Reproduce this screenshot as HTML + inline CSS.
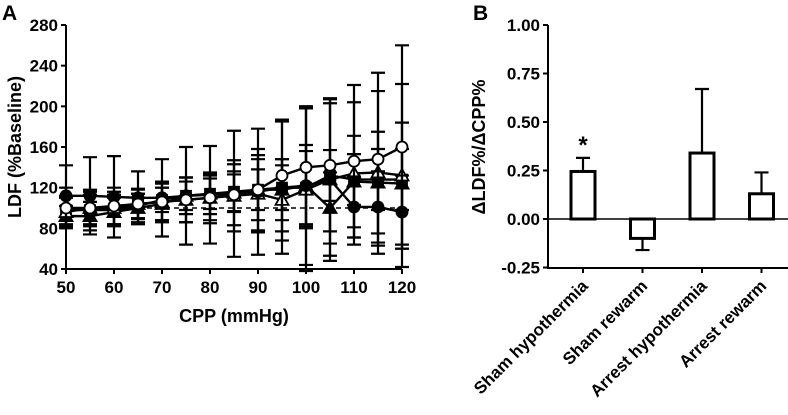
<!DOCTYPE html>
<html><head><meta charset="utf-8"><style>
body{margin:0;background:#fff}
svg{display:block;font-family:"Liberation Sans",Arial,sans-serif;font-weight:bold}
</style></head><body>
<svg id="c" width="788" height="415" viewBox="0 0 788 415"></svg>
<script>
const xVals=[50,55,60,65,70,75,80,85,90,95,100,105,110,115,120];
const openCircle=[100,100,102,104,106,108,110,113,118,132,140,142,146,148,160];
const openCircleErr=[20,18,18,15,20,22,25,30,40,55,60,65,75,85,100];
const filledCircle=[112,112,111,110,110,112,113,114,116,120,122,128,101,101,96];
const filledCircleErr=[30,38,40,26,38,48,48,62,62,65,78,80,30,35,36];
const openTriangle=[96,100,100,104,106,108,110,112,114,108,118,128,134,135,132];
const openTriangleErr=[14,16,16,14,18,22,22,35,38,40,80,75,70,80,90];
const filledTriangle=[92,92,96,100,104,112,114,115,118,118,122,100,126,125,124];
const filledTriangleErr=[10,14,14,14,16,18,20,18,30,30,40,35,45,50,60];
const filledSquare=[98,98,98,102,108,112,114,116,118,120,120,132,128,128,128];
const filledSquareErr=[14,15,15,12,12,14,15,20,20,22,36,25,25,30,30];
const yTicksA=[40,80,120,160,200,240,280];
const categories=["Sham hypothermia","Sham rewarm","Arrest hypothermia","Arrest rewarm"];
const barValues=[0.245,-0.10,0.34,0.13];
const barErr=[0.07,0.06,0.33,0.11];
const yTicksB=[-0.25,0,0.25,0.5,0.75,1.0];

const svg=document.getElementById('c');const NS="http://www.w3.org/2000/svg";
function mk(t,a,p){const e=document.createElementNS(NS,t);for(const k in a)e.setAttribute(k,a[k]);(p||svg).appendChild(e);return e;}
const xA=v=>66+(v-50)*(402-66)/70;
const yA=v=>269-(v-40)*(269-25)/240;
let g=mk('g',{});

let t=mk('text',{x:2,y:20,'font-size':21},g);t.textContent='A';

let ax=mk('path',{d:`M66,25V269H402`,stroke:'#000','stroke-width':2,fill:'none'},g);

yTicksA.forEach(v=>{mk('line',{x1:61,x2:66,y1:yA(v),y2:yA(v),stroke:'#000','stroke-width':2},g);
 const tt=mk('text',{x:58,y:yA(v)+6,'font-size':17,'text-anchor':'end'},g);tt.textContent=v;
 });
[50,60,70,80,90,100,110,120].forEach(v=>{mk('line',{x1:xA(v),x2:xA(v),y1:269,y2:274,stroke:'#000','stroke-width':2},g);
 const tt=mk('text',{x:xA(v),y:293,'font-size':17,'text-anchor':'middle'},g);tt.textContent=v;
 });
t=mk('text',{x:234,y:322,'font-size':18,'text-anchor':'middle'},g);t.textContent='CPP (mmHg)';

t=mk('text',{x:0,y:0,'font-size':18,'text-anchor':'middle',transform:`translate(21,147) rotate(-90)`},g);t.textContent='LDF (%Baseline)';

let d=mk('line',{x1:66,x2:402,y1:yA(100),y2:yA(100),stroke:'#000','stroke-width':1.5,'stroke-dasharray':'5,4'},g);

const series=[[filledSquare,filledSquareErr,'square',true],[filledTriangle,filledTriangleErr,'tri',true],[openTriangle,openTriangleErr,'tri',false],[filledCircle,filledCircleErr,'circ',true],[openCircle,openCircleErr,'circ',false]];
const names=['filled-square','filled-triangle','open-triangle','filled-circle','open-circle'];
series.forEach((s,si)=>{const [vals,err,shape,fill]=s;
 const sg=mk('g',{},g);
 vals.forEach((v,i)=>{const x=xA(xVals[i]);
  mk('path',{d:`M${x},${yA(v-err[i])}V${yA(v+err[i])}M${x-7},${yA(v-err[i])}H${x+7}M${x-7},${yA(v+err[i])}H${x+7}`,stroke:'#000','stroke-width':2.2,fill:'none'},sg);});
 mk('polyline',{points:vals.map((v,i)=>xA(xVals[i])+','+yA(v)).join(' '),fill:'none',stroke:'#000','stroke-width':2.4},sg);
 vals.forEach((v,i)=>{const x=xA(xVals[i]),y=yA(v);let m;
  const st={fill:fill?'#000':'#fff',stroke:'#000','stroke-width':1.8};
  if(shape=='circ')m=mk('circle',Object.assign({cx:x,cy:y,r:5.5},st),sg);
  else if(shape=='tri')m=mk('path',Object.assign({d:`M${x},${y-6.5}L${x+6.5},${y+5}L${x-6.5},${y+5}Z`},st),sg);
  else m=mk('rect',Object.assign({x:x-5,y:y-5,width:10,height:10},st),sg);
  });
});
const yB=v=>219-v*(219-25);
const xB=i=>583+i*59.5;
g=mk('g',{});
t=mk('text',{x:473,y:20,'font-size':21},g);t.textContent='B';

ax=mk('path',{d:`M548,25V268H788`,stroke:'#000','stroke-width':2,fill:'none'},g);

mk('line',{x1:548,x2:788,y1:yB(0),y2:yB(0),stroke:'#000','stroke-width':1.5},g);
yTicksB.forEach(v=>{mk('line',{x1:543,x2:548,y1:yB(v),y2:yB(v),stroke:'#000','stroke-width':2},g);
 const tt=mk('text',{x:540,y:yB(v)+6,'font-size':17,'text-anchor':'end'},g);tt.textContent=v.toFixed(2);
 });
t=mk('text',{x:0,y:0,'font-size':18,'text-anchor':'middle',transform:`translate(485,147) rotate(-90)`},g);t.textContent='ΔLDF%/ΔCPP%';

categories.forEach((c,i)=>{const x=xB(i),v=barValues[i],e=barErr[i];
 mk('line',{x1:x,x2:x,y1:268,y2:273,stroke:'#000','stroke-width':2},g);
 const top=v+(v>=0?e:-e);
 mk('path',{d:`M${x},${yB(v)}V${yB(top)}M${x-7},${yB(top)}H${x+7}`,stroke:'#000','stroke-width':2.2,fill:'none'},g);
 const b=mk('rect',{x:x-12,y:Math.min(yB(v),yB(0)),width:24,height:Math.abs(yB(v)-yB(0)),fill:'#fff',stroke:'#000','stroke-width':3},g);
 
 const tt=mk('text',{x:0,y:0,'font-size':17,'text-anchor':'end',transform:`translate(${x+6},${287}) rotate(-45)`},g);tt.textContent=c;
 });
t=mk('text',{x:xB(0),y:yB(barValues[0]+barErr[0])-5,'font-size':24,'text-anchor':'middle'},g);t.textContent='*';

</script>
</body></html>
